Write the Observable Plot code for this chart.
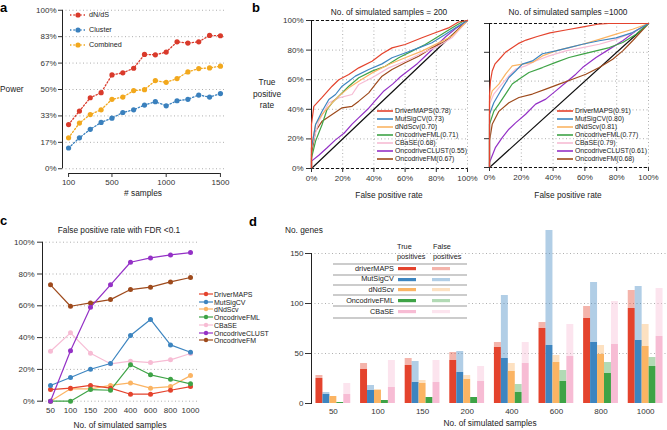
<!DOCTYPE html>
<html><head><meta charset="utf-8">
<script src="https://cdn.jsdelivr.net/npm/d3@7"></script>
<script src="https://cdn.jsdelivr.net/npm/@observablehq/plot@0.6"></script>
<style>
html,body{margin:0;padding:0;background:#fff;overflow:hidden;}
#root{position:relative;width:667px;height:430px;overflow:hidden;background:#fff;font-family:"Liberation Sans",Arial,Helvetica,sans-serif;color:#222;}
</style></head><body><div id="root"></div>
<script>
// ---------------- Panel a: power ----------------
const powerSamples = [100,200,300,400,500,600,700,800,900,1000,1100,1200,1300,1400,1500];
const powerDnds = [0.279,0.364,0.448,0.480,0.592,0.605,0.634,0.721,0.719,0.736,0.801,0.793,0.801,0.841,0.839];
const powerCluster = [0.131,0.195,0.249,0.292,0.319,0.355,0.372,0.402,0.423,0.397,0.429,0.438,0.465,0.452,0.474];
const powerCombined = [0.195,0.288,0.342,0.372,0.438,0.452,0.493,0.499,0.556,0.545,0.569,0.611,0.632,0.636,0.647];
const powerMethods = ["dN/dS","Cluster","Combined"];
const powerYTicks = [0,1/6,2/6,3/6,4/6,5/6,1];
const powerXTicks = [100,500,1000,1500];

// ---------------- Panel b: ROC curves ([FPR, TPR]) ----------------
const rocMethods = ["DriverMAPS","MutSigCV","dNdScv","OncodriveFML","CBaSE","OncodriveCLUST","OncodriveFM"];
const auc200 = ["0.78","0.73","0.70","0.71","0.68","0.55","0.67"];
const auc1000 = ["0.91","0.80","0.81","0.77","0.79","0.61","0.68"];
const rocTicks = [0,0.2,0.4,0.6,0.8,1];
const rocDiagonal = [0,1];
const roc200DriverMAPS = [[0,0],[0,0.30],[0.015,0.42],[0.068,0.48],[0.132,0.556],[0.175,0.60],[0.239,0.635],[0.303,0.68],[0.388,0.725],[0.452,0.775],[0.516,0.815],[0.60,0.838],[0.708,0.883],[0.793,0.917],[0.878,0.95],[0.942,0.99],[1,1]];
const roc200MutSigCV = [[0,0],[0,0.14],[0.026,0.297],[0.068,0.387],[0.111,0.466],[0.154,0.50],[0.196,0.556],[0.239,0.59],[0.281,0.624],[0.367,0.669],[0.452,0.707],[0.516,0.748],[0.60,0.78],[0.687,0.815],[0.772,0.85],[0.857,0.905],[0.921,0.95],[1,1]];
const roc200dNdScv = [[0,0],[0,0.14],[0.026,0.297],[0.068,0.365],[0.132,0.444],[0.175,0.489],[0.239,0.545],[0.303,0.59],[0.388,0.646],[0.495,0.703],[0.60,0.748],[0.708,0.793],[0.815,0.849],[0.90,0.894],[1,1]];
const roc200OncodriveFML = [[0,0],[0,0.07],[0.026,0.185],[0.068,0.297],[0.10,0.40],[0.132,0.444],[0.175,0.489],[0.239,0.556],[0.303,0.613],[0.388,0.658],[0.473,0.691],[0.559,0.748],[0.644,0.793],[0.729,0.838],[0.815,0.894],[0.90,0.95],[0.964,0.99],[1,1]];
const roc200CBaSE = [[0,0],[0,0.14],[0.047,0.32],[0.111,0.444],[0.175,0.477],[0.26,0.50],[0.303,0.568],[0.388,0.613],[0.495,0.68],[0.60,0.725],[0.708,0.78],[0.815,0.827],[0.90,0.883],[1,1]];
const roc200OncodriveCLUST = [[0,0],[0,0.05],[0.047,0.09],[0.10,0.14],[0.15,0.19],[0.21,0.24],[0.26,0.30],[0.30,0.34],[0.36,0.40],[0.41,0.46],[0.46,0.52],[0.52,0.57],[0.57,0.62],[0.62,0.66],[0.68,0.71],[0.73,0.76],[0.80,0.83],[0.86,0.89],[0.93,0.95],[1,1]];
const roc200OncodriveFM = [[0,0],[0,0.095],[0.026,0.252],[0.068,0.32],[0.132,0.365],[0.196,0.41],[0.26,0.42],[0.303,0.455],[0.367,0.511],[0.409,0.568],[0.452,0.624],[0.516,0.669],[0.60,0.714],[0.687,0.759],[0.772,0.815],[0.857,0.86],[0.921,0.917],[1,1]];
const roc1000DriverMAPS = [[0,0],[0,0.5],[0.006,0.6],[0.017,0.67],[0.035,0.72],[0.06,0.75],[0.1,0.8],[0.14,0.83],[0.18,0.86],[0.23,0.885],[0.3,0.91],[0.38,0.935],[0.48,0.955],[0.58,0.975],[0.68,0.995],[0.75,1],[1,1]];
const roc1000MutSigCV = [[0,0],[0,0.37],[0.027,0.45],[0.069,0.53],[0.122,0.625],[0.164,0.67],[0.206,0.718],[0.27,0.74],[0.333,0.79],[0.417,0.81],[0.50,0.833],[0.585,0.856],[0.69,0.88],[0.796,0.90],[0.90,0.937],[1,1]];
const roc1000dNdScv = [[0,0],[0,0.463],[0.017,0.532],[0.059,0.579],[0.101,0.648],[0.143,0.706],[0.206,0.718],[0.27,0.73],[0.333,0.775],[0.417,0.81],[0.50,0.833],[0.585,0.856],[0.69,0.89],[0.796,0.926],[0.90,0.96],[1,1]];
const roc1000OncodriveFML = [[0,0],[0,0.30],[0.027,0.39],[0.059,0.44],[0.101,0.51],[0.143,0.58],[0.185,0.613],[0.248,0.66],[0.333,0.694],[0.417,0.73],[0.50,0.764],[0.585,0.787],[0.67,0.81],[0.754,0.833],[0.838,0.868],[0.922,0.926],[1,1]];
const roc1000CBaSE = [[0,0],[0,0.44],[0.027,0.51],[0.069,0.567],[0.122,0.637],[0.164,0.683],[0.227,0.706],[0.29,0.74],[0.375,0.775],[0.48,0.81],[0.585,0.833],[0.69,0.856],[0.796,0.89],[0.90,0.937],[1,1]];
const roc1000OncodriveCLUST = [[0,0],[0,0.035],[0.038,0.14],[0.08,0.208],[0.122,0.266],[0.164,0.31],[0.227,0.37],[0.29,0.44],[0.354,0.475],[0.417,0.532],[0.48,0.59],[0.543,0.648],[0.585,0.694],[0.67,0.764],[0.754,0.822],[0.838,0.88],[0.922,0.95],[1,1]];
const roc1000OncodriveFM = [[0,0],[0,0.185],[0.017,0.30],[0.059,0.39],[0.122,0.45],[0.185,0.486],[0.27,0.51],[0.354,0.544],[0.438,0.579],[0.522,0.613],[0.606,0.648],[0.69,0.694],[0.775,0.752],[0.838,0.81],[0.90,0.88],[1,1]];

// ---------------- Panel c: false positive rate ----------------
const fdrSamples = ["50","100","150","200","400","600","800","1000"];
const fdrYTicks = [0,0.2,0.4,0.6,0.8,1];
const fdrDriverMAPS = [0.073,0.082,0.099,0.082,0.044,0.044,0.069,0.092];
const fdrMutSigCV = [0.099,0.149,0.201,0.237,0.413,0.514,0.354,0.308];
const fdrDNdScv = [0,0.078,0.078,0.099,0.115,0.082,0.092,0.161];
const fdrOncodriveFML = [0,0,0.073,0.069,0.229,0.166,0.138,0.109];
const fdrCBaSE = [0.314,0.43,0.302,0.235,0.252,0.243,0.26,0.30];
const fdrOncodriveCLUST = [0,0.317,0.591,0.732,0.874,0.901,0.92,0.935];
const fdrOncodriveFM = [0.732,0.597,0.618,0.639,0.702,0.717,0.75,0.778];

// ---------------- Panel d: number of genes ----------------
const geneSamples = ["50","100","150","200","400","600","800","1000"];
const geneMethods = ["driverMAPS","MutSigCV","dNdScv","OncodriveFML","CBaSE"];
const geneYTicks = [0,50,100,150];
const tpDriverMAPS = [25,34,38,43,56,75,85,95];
const fpDriverMAPS = [3,6,7,8,5,6,12,18];
const tpMutSigCV = [9,13,21,31,45,58,61,63];
const fpMutSigCV = [2,5,21,21,63,115,60,54];
const tpDNdScv = [7,13,20,24,32,41,49,57];
const fpDNdScv = [0,1,3,4,8,7,9,22];
const tpOncodriveFML = [1,3,6,6,11,22,30,37];
const fpOncodriveFML = [0,0,0,0,8,11,11,9];
const tpCBaSE = [9,16,21,22,40,47,59,67];
const fpCBaSE = [11,27,22,15,21,32,43,48];

// ---------------- styling ----------------
const FONT = '"Liberation Sans", Arial, Helvetica, sans-serif';
const powerColors = ["#d93a2b","#3a80bd","#f2a81d"];
const methodColors = ["#e4432d","#3d85c0","#fbb463","#3ea346","#f7bcd4","#9431c6","#9e4a1c"];
const gridStyle = {stroke:"#9a9a9a", strokeOpacity:1, strokeDasharray:"1,2.5", strokeWidth:0.8};
const pct = d => Math.round(d*100) + "%";
const baseStyle = () => ({background:"transparent", overflow:"visible", fontFamily:FONT, fontSize:"8px", color:"#333"});

const root = document.getElementById("root");
function put(el, x, y){ el.style.position="absolute"; el.style.left=x+"px"; el.style.top=y+"px"; root.appendChild(el); return el; }
function txt(x, y, s, o={}){
  const d=document.createElement("div");
  d.textContent=s;
  const size=o.size||8, anchor=o.anchor||"middle";
  const tx = anchor==="middle"?"-50%":anchor==="end"?"-100%":"0";
  d.style.cssText=`font-size:${size}px;line-height:1;white-space:nowrap;font-weight:${o.weight||"normal"};color:${o.color||"#222"};transform:translate(${tx},-50%);`;
  return put(d,x,y);
}
function svgBox(x,y,w,h,inner){
  const d=document.createElement("div");
  d.style.width=w+"px"; d.style.height=h+"px";
  d.innerHTML=`<svg width="${w}" height="${h}" style="display:block;overflow:visible">${inner}</svg>`;
  return put(d,x,y);
}

// ================= Panel a =================
const powerSeries = [powerDnds, powerCluster, powerCombined];
const powerRows = powerMethods.map((m,k) => powerSamples.map((s,i) => ({x:s, y:powerSeries[k][i]})));
const aXDomain = [44,1556], aYDomain = [-0.03,1.03];
const aPlot = Plot.plot({
  width:230, height:200, marginLeft:62, marginRight:4, marginTop:5, marginBottom:27,
  x:{domain:aXDomain, label:null}, y:{domain:aYDomain, label:null},
  style: baseStyle(),
  marks:[
    Plot.gridY(powerYTicks, gridStyle),
    Plot.ruleX([aXDomain[0]], {y1:0, y2:1, stroke:"#222"}),
    Plot.ruleY([aYDomain[0]], {x1:powerXTicks[0], x2:powerXTicks[powerXTicks.length-1], stroke:"#222"}),
    Plot.axisY(powerYTicks, {tickFormat:pct, tickSize:4, tickPadding:2}),
    Plot.axisX(powerXTicks, {tickFormat:d => String(d), tickSize:4, tickPadding:2}),
    ...powerRows.map((rows,k) => Plot.line(rows, {x:"x", y:"y", stroke:powerColors[k], strokeWidth:1.3, strokeDasharray:"1.4,2"})),
    ...powerRows.map((rows,k) => Plot.dot(rows, {x:"x", y:"y", fill:powerColors[k], r:2.6}))
  ]
});
put(aPlot, 0, 0);
txt(0, 7, "a", {size:13, weight:"bold", anchor:"start", color:"#000"});
txt(0, 89, "Power", {size:8.3, anchor:"start"});
txt(143, 193, "# samples", {size:8.3});
powerMethods.forEach((m,k) => {
  const y = 15.3 + k*15;
  svgBox(69, y-4, 18, 8, `<line x1="1" y1="4" x2="17" y2="4" stroke="${powerColors[k]}" stroke-width="1.3" stroke-dasharray="1.4,2"/><circle cx="9" cy="4" r="2.6" fill="${powerColors[k]}"/>`);
  txt(89, y, m, {size:7.2, anchor:"start"});
});

// ================= Panel b =================
const roc200 = [roc200DriverMAPS, roc200MutSigCV, roc200dNdScv, roc200OncodriveFML, roc200CBaSE, roc200OncodriveCLUST, roc200OncodriveFM];
const roc1000 = [roc1000DriverMAPS, roc1000MutSigCV, roc1000dNdScv, roc1000OncodriveFML, roc1000CBaSE, roc1000OncodriveCLUST, roc1000OncodriveFM];
const rocOrder = [5,6,4,3,2,1,0];
function rocPlot(curves, dims, yLabels){
  return Plot.plot({
    width:dims.w, height:200, marginLeft:dims.l, marginRight:dims.r, marginTop:dims.t, marginBottom:dims.b,
    x:{domain:[0,1], label:null}, y:{domain:[0,1], label:null},
    style: baseStyle(),
    marks:[
      Plot.gridX(rocTicks, gridStyle),
      Plot.gridY(rocTicks, gridStyle),
      Plot.ruleY([0,1], {stroke:"#111", strokeDasharray:"3,2"}),
      Plot.ruleX([0], {stroke:"#111"}),
      Plot.line(rocDiagonal, {x:d=>d, y:d=>d, stroke:"#111", strokeWidth:1.2}),
      ...rocOrder.map(i => Plot.line(curves[i], {stroke:methodColors[i], strokeWidth:1.2})),
      Plot.axisY(rocTicks, {tickFormat: yLabels ? pct : () => "", tickSize:5, tickPadding:3}),
      Plot.axisX(rocTicks, {tickFormat:pct, tickSize:4, tickPadding:3})
    ]
  });
}
put(rocPlot(roc200, {w:250, l:91, r:3, t:20, b:32}, true), 220, 0);
put(rocPlot(roc1000, {w:197, l:19, r:19, t:23, b:33}, false), 470, 0);
txt(252, 7, "b", {size:13, weight:"bold", anchor:"start", color:"#000"});
txt(389, 12, "No. of simulated samples = 200", {size:8.3});
txt(568, 12, "No. of simulated samples =1000", {size:8.3});
txt(267, 82, "True", {size:8.3});
txt(267, 93.5, "positive", {size:8.3});
txt(267, 105, "rate", {size:8.3});
txt(389, 195, "False positive rate", {size:8.3});
txt(568, 195, "False positive rate", {size:8.3});
rocMethods.forEach((m,i) => {
  const y = 110.7 + i*8;
  svgBox(377, y-2, 16, 4, `<line x1="0" y1="2" x2="16" y2="2" stroke="${methodColors[i]}" stroke-width="1.6"/>`);
  txt(395, y, `${m}(${auc200[i]})`, {size:6.9, anchor:"start"});
  svgBox(557, y-2, 16, 4, `<line x1="0" y1="2" x2="16" y2="2" stroke="${methodColors[i]}" stroke-width="1.6"/>`);
  txt(575, y, `${m}(${auc1000[i]})`, {size:6.9, anchor:"start"});
});

// ================= Panel c =================
const fdrSeries = [fdrDriverMAPS, fdrMutSigCV, fdrDNdScv, fdrOncodriveFML, fdrCBaSE, fdrOncodriveCLUST, fdrOncodriveFM];
const fdrRows = fdrSeries.map(vals => fdrSamples.map((s,i) => ({x:s, y:vals[i]})));
const fdrOrder = [4,2,0,3,1,6,5];
const cPlot = Plot.plot({
  width:200, height:208, marginLeft:42, marginRight:3, marginTop:19.7, marginBottom:29.3,
  x:{type:"point", domain:fdrSamples, padding:0.3, label:null},
  y:{domain:[0,1], label:null},
  style: baseStyle(),
  marks:[
    Plot.gridY(fdrYTicks, gridStyle),
    Plot.frame({anchor:"left", stroke:"#222"}),
    Plot.axisY(fdrYTicks, {tickFormat:pct, tickSize:5, tickPadding:3}),
    Plot.axisX(fdrSamples, {tickSize:0, tickPadding:6}),
    ...fdrOrder.map(k => Plot.line(fdrRows[k], {x:"x", y:"y", stroke:methodColors[k], strokeWidth:1.2})),
    ...fdrOrder.map(k => Plot.dot(fdrRows[k], {x:"x", y:"y", fill:methodColors[k], r:2.5}))
  ]
});
put(cPlot, 0, 222);
txt(0, 220, "c", {size:13, weight:"bold", anchor:"start", color:"#000"});
txt(119, 230, "False positive rate with FDR <0.1", {size:8.3});
txt(120, 425, "No. of simulated samples", {size:8.3});
rocMethods.forEach((m,i) => {
  const y = 294 + i*7.7;
  svgBox(199, y-3, 14, 6, `<line x1="0" y1="3" x2="14" y2="3" stroke="${methodColors[i]}" stroke-width="1.2"/><circle cx="7" cy="3" r="2.2" fill="${methodColors[i]}"/>`);
  txt(214, y, m, {size:7, anchor:"start"});
});

// ================= Panel d =================
const tpSeries = [tpDriverMAPS, tpMutSigCV, tpDNdScv, tpOncodriveFML, tpCBaSE];
const fpSeries = [fpDriverMAPS, fpMutSigCV, fpDNdScv, fpOncodriveFML, fpCBaSE];
const geneRows = geneMethods.map((m,j) => geneSamples.map((g,i) => ({group:g, method:m, tp:tpSeries[j][i], total:tpSeries[j][i]+fpSeries[j][i]})));
const dDims = {width:447, height:208, marginLeft:91, marginRight:0, marginTop:31, marginBottom:27};
const dAxis = Plot.plot({
  ...dDims,
  y:{domain:[0,150], label:null},
  style: baseStyle(),
  marks:[
    Plot.gridY(geneYTicks.slice(1), gridStyle),
    Plot.frame({anchor:"left", stroke:"#222"}),
    Plot.axisY(geneYTicks, {tickSize:6, tickPadding:2})
  ]
});
put(dAxis, 220, 222);
const midMethod = geneMethods[2];
const dPlot = Plot.plot({
  ...dDims,
  fx:{domain:geneSamples, paddingInner:0.22, paddingOuter:0.1, round:false, label:null, axis:null},
  x:{domain:geneMethods, padding:0, round:false, axis:null},
  y:{domain:[0,150], axis:null},
  style: baseStyle(),
  marks: [
    ...geneMethods.flatMap((m,j) => [
      Plot.barY(geneRows[j], {fx:"group", x:"method", y1:0, y2:"tp", fill:methodColors[j]}),
      Plot.barY(geneRows[j], {fx:"group", x:"method", y1:"tp", y2:"total", fill:methodColors[j], fillOpacity:0.4})
    ]),
    Plot.text(geneSamples, {fx:d => d, x:() => midMethod, y:0, text:d => d, dy:8, fill:"#333"})
  ]
});
put(dPlot, 220, 222);
txt(249, 221, "d", {size:13, weight:"bold", anchor:"start", color:"#000"});
txt(285, 230, "No. genes", {size:8.3, anchor:"start"});
txt(490, 423, "No. of simulated samples", {size:8.3});
// legend table for d
const lg = document.createElement("div");
lg.style.cssText = "width:134px;height:55px;background:#fff;";
put(lg, 333, 263);
txt(397, 247, "True", {size:7.3, anchor:"start"});
txt(397, 257, "positives", {size:7.3, anchor:"start"});
txt(433, 247, "False", {size:7.3, anchor:"start"});
txt(433, 257, "positives", {size:7.3, anchor:"start"});
const sepY = [263.3, 274.3, 284.3, 295, 306, 317.3];
sepY.forEach(y => svgBox(333, y-0.6, 134, 2, `<line x1="0" y1="1" x2="134" y2="1" stroke="#999" stroke-width="1.1"/>`));
geneMethods.forEach((m,j) => {
  const y = (sepY[j] + sepY[j+1]) / 2;
  txt(394, y, m, {size:7.3, anchor:"end"});
  svgBox(398, y-1.6, 18, 3.2, `<rect width="18" height="3.2" fill="${methodColors[j]}"/>`);
  svgBox(432, y-1.6, 18, 3.2, `<rect width="18" height="3.2" fill="${methodColors[j]}" fill-opacity="0.4"/>`);
});
</script></body></html>
